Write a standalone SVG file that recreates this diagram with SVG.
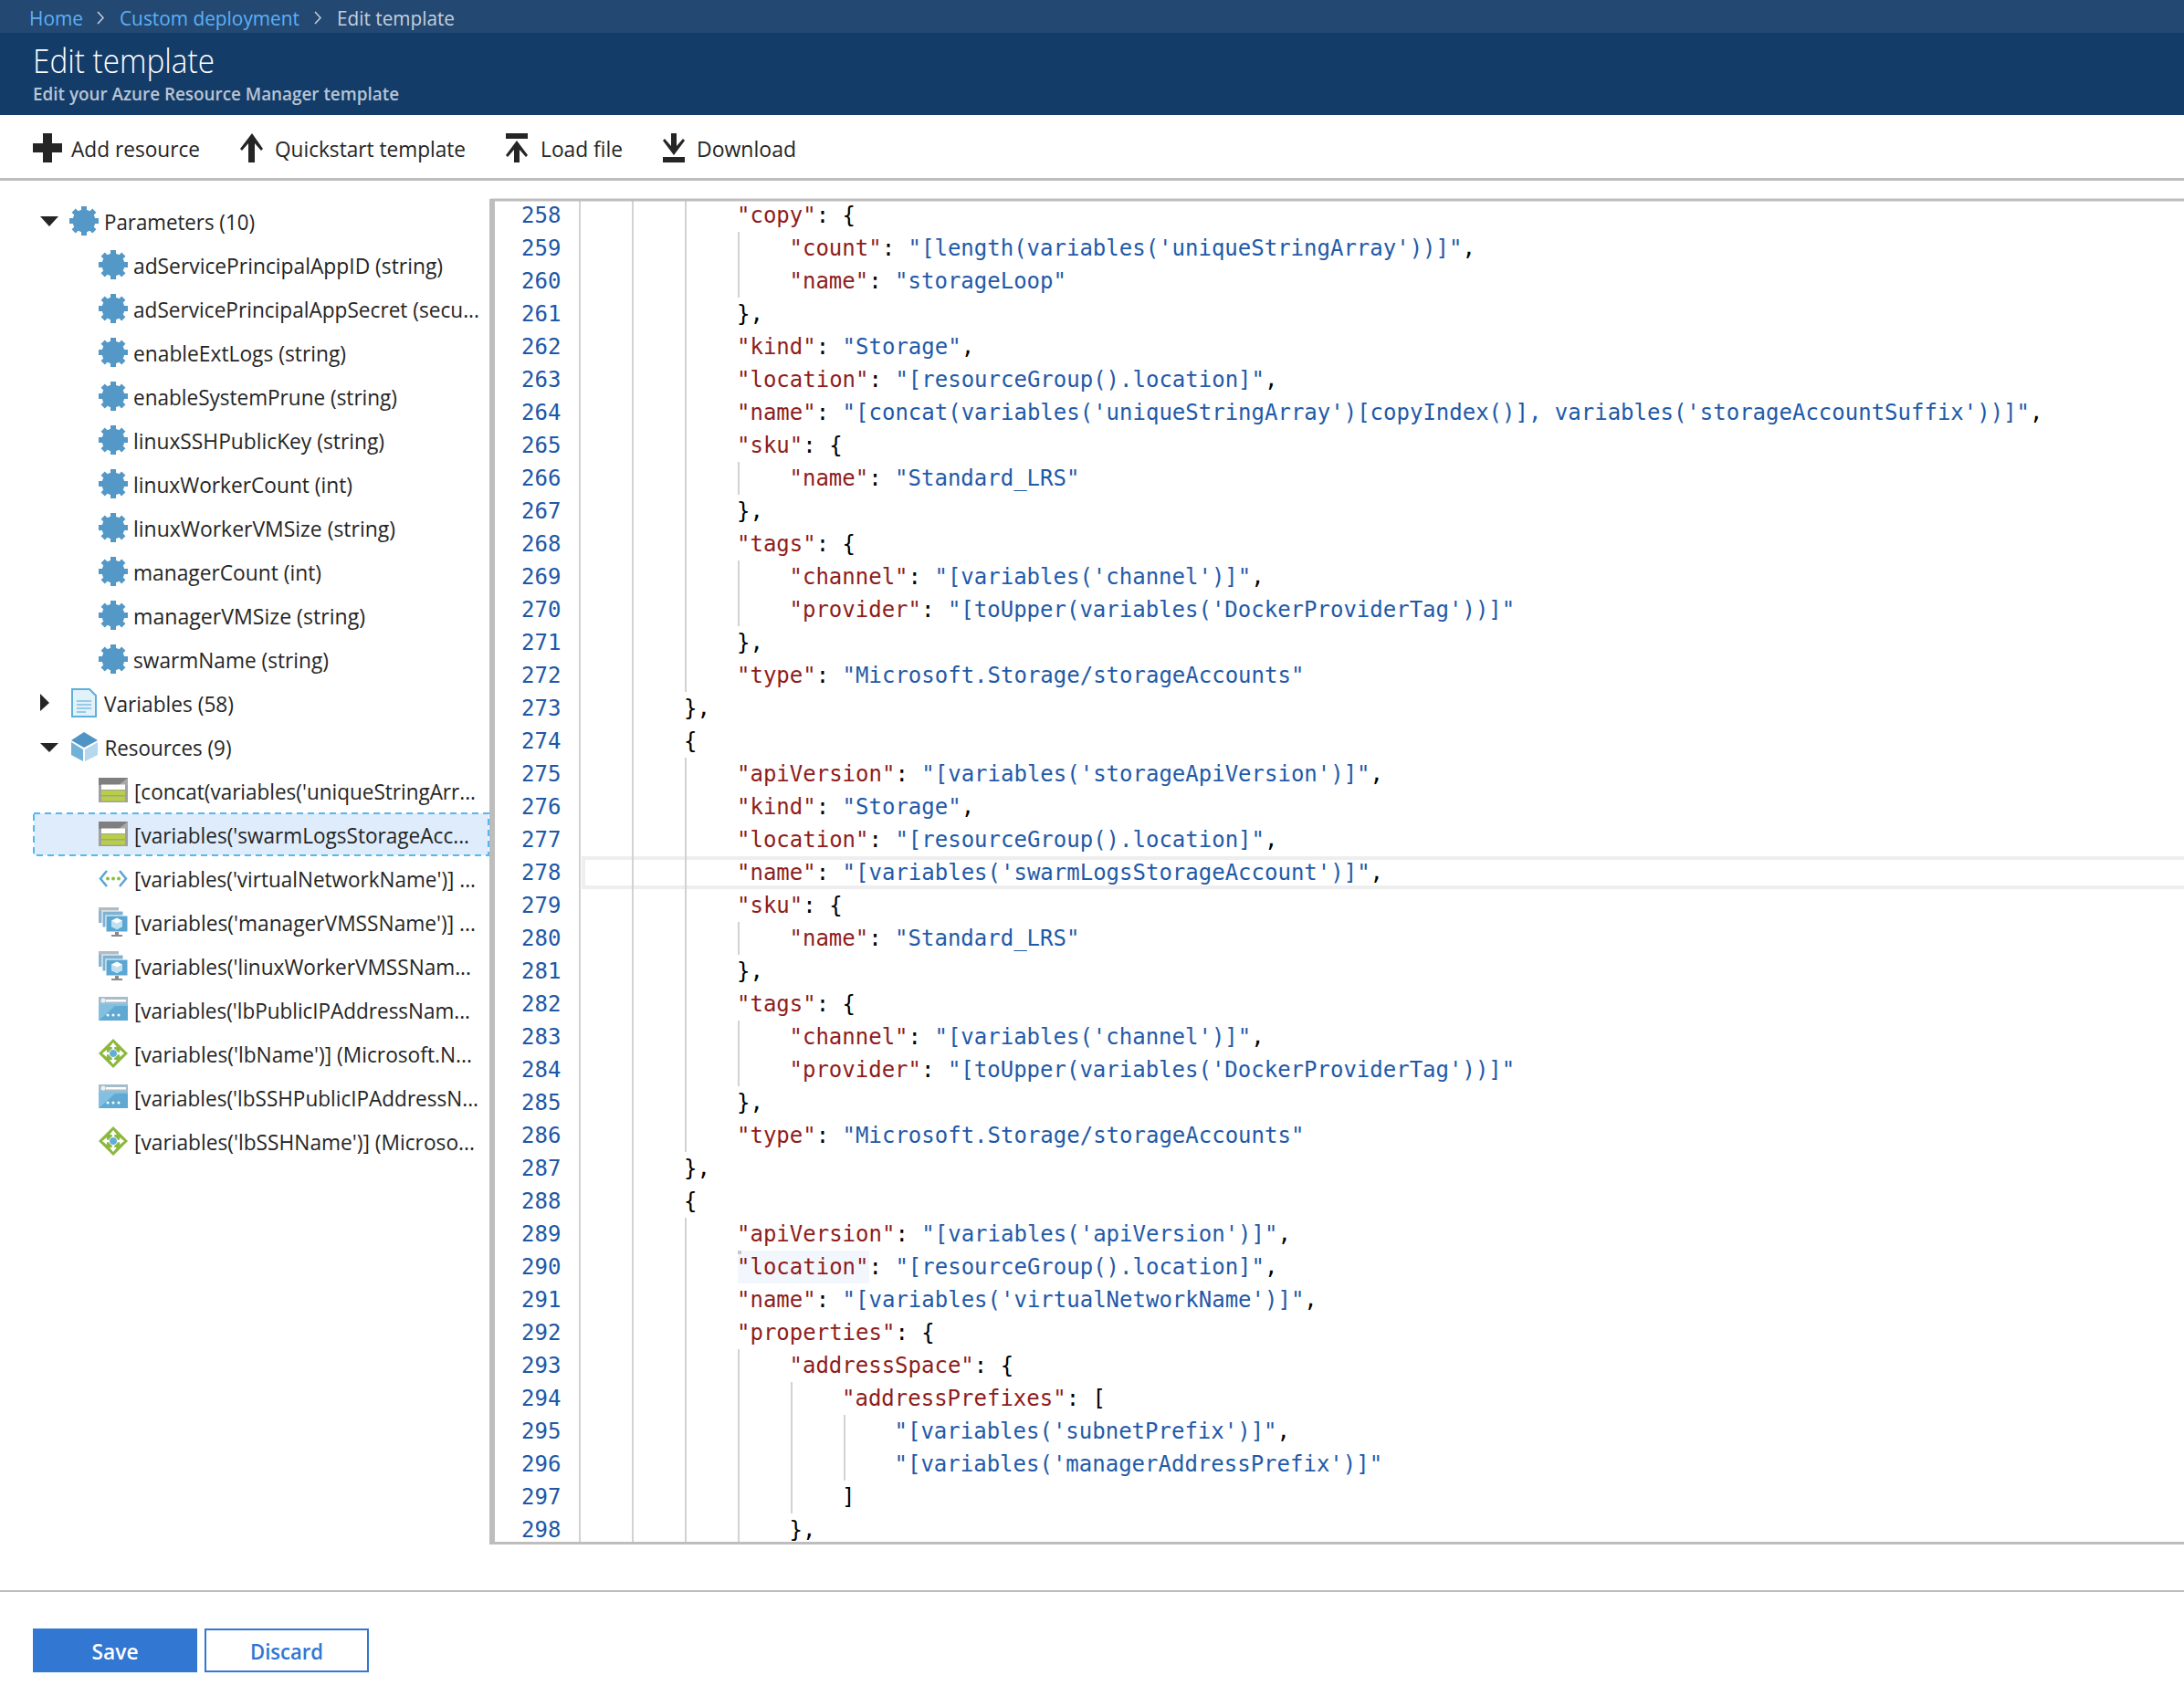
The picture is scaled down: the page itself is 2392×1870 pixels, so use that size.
<svg xmlns="http://www.w3.org/2000/svg" xmlns:xlink="http://www.w3.org/1999/xlink" width="2392" height="1870" viewBox="0 0 2392 1870">
<style>
.ui{font-family:"Open Sans","Noto Sans","Liberation Sans",sans-serif;font-size:24px;fill:#252525}
.cr{font-size:22px}
.lk{fill:#5cb0f6}
.code text,.num{font-family:"DejaVu Sans Mono","Liberation Mono",monospace;font-size:24px;fill:#000}
.num{fill:#2057a7}
.k{fill:#8f1d1b}
.s{fill:#1f5aa8}
.g{stroke:#d2d2d2;stroke-width:2;fill:none}
.bk{fill:#252525}
</style>
<defs>
<g id="gear"><circle r="12.5" fill="#5498c7"/><g fill="#5498c7"><rect x="-3" y="-16" width="6" height="32"/><rect x="-3" y="-16" width="6" height="32" transform="rotate(45)"/><rect x="-3" y="-16" width="6" height="32" transform="rotate(90)"/><rect x="-3" y="-16" width="6" height="32" transform="rotate(135)"/></g></g>
<g id="storage"><rect width="32" height="27" fill="#a0a0a0"/><path d="M0 0H32V8H0Z" fill="#7f7f7f"/><path d="M22 8L32 0V8Z" fill="#a8a8a8"/><rect x="3" y="7.500" width="26" height="5.500" fill="#fff"/><rect x="3" y="14" width="26" height="5" fill="#b8cf45"/><rect x="3" y="20.500" width="26" height="5" fill="#b8cf45"/></g>
<g id="net"><path d="M9 1L2 9.500L9 18M23 1L30 9.500L23 18" fill="none" stroke="#59a5d8" stroke-width="2.500"/><circle cx="10" cy="9.500" r="2" fill="#8cbc3c"/><circle cx="16" cy="9.500" r="2" fill="#8cbc3c"/><circle cx="22" cy="9.500" r="2" fill="#8cbc3c"/></g>
<g id="vmss"><rect x="0" y="0" width="22" height="17" fill="#8db5cf"/><rect x="0" y="0" width="22" height="4" fill="#b0bcc4"/><rect x="4" y="4" width="23" height="18" fill="#7fb2d2" stroke="#fff"/><rect x="8" y="9" width="24" height="18" fill="#5ba7d3" stroke="#fff"/><path d="M20 11.500L26 14.500V21L20 24L14 21V14.500Z" fill="#fff"/><path d="M20 17.500L26 14.500V21L20 24ZM20 17.500L14 14.500V21L20 24Z" fill="#bfe0f2"/><rect x="18" y="27" width="4" height="3" fill="#8a8a8a"/><rect x="14" y="30" width="12" height="2" fill="#8a8a8a"/></g>
<g id="ip"><rect width="32" height="26" fill="#83c0e0"/><path d="M0 26L18 10H32V26Z" fill="#5fa9d2"/><rect width="32" height="8" fill="#a5bccb"/><rect x="8" y="3" width="22" height="2.500" fill="#fff"/><circle cx="5" cy="4" r="2.500" fill="#e8f3f9"/><circle cx="10" cy="20" r="1.500" fill="#fff"/><circle cx="16" cy="20" r="1.500" fill="#fff"/><circle cx="22" cy="20" r="1.500" fill="#fff"/></g>
<g id="lb"><path d="M0-16L16 0L0 16L-16 0Z" fill="#8cb83c"/><path d="M0-10V10M-10 0H10" stroke="#fff" stroke-width="2.500"/><path d="M0-12L-4-7H4ZM0 12L-4 7H4ZM-12 0L-7-4V4ZM12 0L7-4V4Z" fill="#fff"/><circle r="4.500" fill="#62aedb" stroke="#fff"/></g>
</defs>
<rect width="2392" height="1870" fill="#fff"/>
<g id="header">
<rect width="2392" height="36" fill="#234872"/>
<rect y="36" width="2392" height="90" fill="#143c69"/>
<text class="ui cr lk" x="32" y="28" textLength="59" lengthAdjust="spacingAndGlyphs">Home</text>
<path d="M107 13L113 19.500L107 26" fill="none" stroke="#c6d0dc" stroke-width="1.500"/>
<text class="ui cr lk" x="131" y="28" textLength="197" lengthAdjust="spacingAndGlyphs">Custom deployment</text>
<path d="M345 13L351 19.500L345 26" fill="none" stroke="#c6d0dc" stroke-width="1.500"/>
<text class="ui cr" style="fill:#c6d0dc" x="369" y="28" textLength="129" lengthAdjust="spacingAndGlyphs">Edit template</text>
<text class="ui" style="font-size:36px;font-weight:300;fill:#fff" x="36" y="80" textLength="199" lengthAdjust="spacingAndGlyphs">Edit template</text>
<text class="ui" style="font-size:20px;font-weight:600;fill:#b9c5d3" x="36" y="110" textLength="401" lengthAdjust="spacingAndGlyphs">Edit your Azure Resource Manager template</text>
</g>
<g id="toolbar">
<path class="bk" d="M47 146H57V157H68V167H57V178H47V167H36V157H47Z"/>
<text class="ui" x="78" y="172" textLength="141" lengthAdjust="spacingAndGlyphs">Add resource</text>
<path class="bk" d="M276 146L288 163L286 165L279 157V178H272V157L265 165L263 163Z"/>
<text class="ui" x="301" y="172" textLength="209" lengthAdjust="spacingAndGlyphs">Quickstart template</text>
<path class="bk" d="M554 146H578V152H554ZM566 154L578 170L576 172L569 164V178H563V164L556 172L554 170Z"/>
<text class="ui" x="592" y="172" textLength="90" lengthAdjust="spacingAndGlyphs">Load file</text>
<path class="bk" d="M735 146H741V160L748 152L750 154L738 170L726 154L728 152L735 160ZM726 172H750V178H726Z"/>
<text class="ui" x="763" y="172" textLength="109" lengthAdjust="spacingAndGlyphs">Download</text>
<rect y="195" width="2392" height="3" fill="#bdbdbd"/>
</g>
<g id="tree">
<rect x="37" y="891" width="498" height="46" fill="#deecfb" stroke="#55b8ee" stroke-width="2" stroke-dasharray="7 5"/>
<path class="bk" d="M44 237H64L54 248Z"/>
<use href="#gear" x="92" y="242"/>
<text class="ui" x="114" y="252" textLength="165" lengthAdjust="spacingAndGlyphs">Parameters (10)</text>
<use href="#gear" x="124" y="290"/><text class="ui" x="146" y="300" textLength="339" lengthAdjust="spacingAndGlyphs">adServicePrincipalAppID (string)</text>
<use href="#gear" x="124" y="338"/><text class="ui" x="146" y="348" textLength="379" lengthAdjust="spacingAndGlyphs">adServicePrincipalAppSecret (secu...</text>
<use href="#gear" x="124" y="386"/><text class="ui" x="146" y="396" textLength="233" lengthAdjust="spacingAndGlyphs">enableExtLogs (string)</text>
<use href="#gear" x="124" y="434"/><text class="ui" x="146" y="444" textLength="289" lengthAdjust="spacingAndGlyphs">enableSystemPrune (string)</text>
<use href="#gear" x="124" y="482"/><text class="ui" x="146" y="492" textLength="275" lengthAdjust="spacingAndGlyphs">linuxSSHPublicKey (string)</text>
<use href="#gear" x="124" y="530"/><text class="ui" x="146" y="540" textLength="240" lengthAdjust="spacingAndGlyphs">linuxWorkerCount (int)</text>
<use href="#gear" x="124" y="578"/><text class="ui" x="146" y="588" textLength="287" lengthAdjust="spacingAndGlyphs">linuxWorkerVMSize (string)</text>
<use href="#gear" x="124" y="626"/><text class="ui" x="146" y="636" textLength="206" lengthAdjust="spacingAndGlyphs">managerCount (int)</text>
<use href="#gear" x="124" y="674"/><text class="ui" x="146" y="684" textLength="254" lengthAdjust="spacingAndGlyphs">managerVMSize (string)</text>
<use href="#gear" x="124" y="722"/><text class="ui" x="146" y="732" textLength="214" lengthAdjust="spacingAndGlyphs">swarmName (string)</text>
<path class="bk" d="M44 760L54 770L44 779Z"/>
<g id="icon-variables"><path d="M79 755H98L105 762V785H79Z" fill="#e3f1f9" stroke="#5cb0dc" stroke-width="2"/><path d="M84 768H100M84 772H100M84 776H100M84 780H94" stroke="#7cc0e4" stroke-width="1.500"/></g>
<text class="ui" x="114" y="780" textLength="142" lengthAdjust="spacingAndGlyphs">Variables (58)</text>
<path class="bk" d="M44 814H64L54 824Z"/>
<g id="icon-resources"><path d="M92 802L107 811L92 819L78 811Z" fill="#4f94c4"/><path d="M78 813L91 821V834L78 827Z" fill="#71b3d8"/><path d="M93 821L107 813V827L93 834Z" fill="#b5d8ec"/></g>
<text class="ui" x="114.500" y="828" textLength="139" lengthAdjust="spacingAndGlyphs">Resources (9)</text>
<use href="#storage" x="108" y="852"/><text class="ui" x="147" y="876" textLength="374" lengthAdjust="spacingAndGlyphs">[concat(variables('uniqueStringArr...</text>
<use href="#storage" x="108" y="900"/><text class="ui" x="147" y="924" textLength="367" lengthAdjust="spacingAndGlyphs">[variables('swarmLogsStorageAcc...</text>
<use href="#net" x="108" y="953"/><text class="ui" x="147" y="972" textLength="374" lengthAdjust="spacingAndGlyphs">[variables('virtualNetworkName')] ...</text>
<use href="#vmss" x="108" y="994"/><text class="ui" x="147" y="1020" textLength="374" lengthAdjust="spacingAndGlyphs">[variables('managerVMSSName')] ...</text>
<use href="#vmss" x="108" y="1042"/><text class="ui" x="147" y="1068" textLength="369" lengthAdjust="spacingAndGlyphs">[variables('linuxWorkerVMSSNam...</text>
<use href="#ip" x="108" y="1092"/><text class="ui" x="147" y="1116" textLength="368" lengthAdjust="spacingAndGlyphs">[variables('lbPublicIPAddressNam...</text>
<use href="#lb" x="124" y="1154"/><text class="ui" x="147" y="1164" textLength="370" lengthAdjust="spacingAndGlyphs">[variables('lbName')] (Microsoft.N...</text>
<use href="#ip" x="108" y="1188"/><text class="ui" x="147" y="1212" textLength="377" lengthAdjust="spacingAndGlyphs">[variables('lbSSHPublicIPAddressN...</text>
<use href="#lb" x="124" y="1250"/><text class="ui" x="147" y="1260" textLength="373" lengthAdjust="spacingAndGlyphs">[variables('lbSSHName')] (Microso...</text>
</g>
<g id="editor">
<rect x="639" y="940" width="1756" height="32" fill="none" stroke="#eeeeee" stroke-width="4"/>
<rect x="808" y="1370" width="144" height="36" fill="#f2f7fe"/>
<rect x="808" y="1370" width="4" height="4" fill="#c8c8c8"/>
<path class="g" d="M635 220V1690M693 220V1690M751 220V758M751 830V1262M751 1334V1690M809 254V326M809 506V542M809 614V686M809 1010V1046M809 1118V1190M809 1478V1690M867 1514V1658M925 1550V1622"/>
<g class="num">
<text class="num" x="571" y="244">258</text><text class="num" x="571" y="280">259</text><text class="num" x="571" y="316">260</text><text class="num" x="571" y="352">261</text><text class="num" x="571" y="388">262</text><text class="num" x="571" y="424">263</text><text class="num" x="571" y="460">264</text><text class="num" x="571" y="496">265</text><text class="num" x="571" y="532">266</text><text class="num" x="571" y="568">267</text><text class="num" x="571" y="604">268</text><text class="num" x="571" y="640">269</text><text class="num" x="571" y="676">270</text><text class="num" x="571" y="712">271</text><text class="num" x="571" y="748">272</text><text class="num" x="571" y="784">273</text><text class="num" x="571" y="820">274</text><text class="num" x="571" y="856">275</text><text class="num" x="571" y="892">276</text><text class="num" x="571" y="928">277</text><text class="num" x="571" y="964">278</text><text class="num" x="571" y="1000">279</text><text class="num" x="571" y="1036">280</text><text class="num" x="571" y="1072">281</text><text class="num" x="571" y="1108">282</text><text class="num" x="571" y="1144">283</text><text class="num" x="571" y="1180">284</text><text class="num" x="571" y="1216">285</text><text class="num" x="571" y="1252">286</text><text class="num" x="571" y="1288">287</text><text class="num" x="571" y="1324">288</text><text class="num" x="571" y="1360">289</text><text class="num" x="571" y="1396">290</text><text class="num" x="571" y="1432">291</text><text class="num" x="571" y="1468">292</text><text class="num" x="571" y="1504">293</text><text class="num" x="571" y="1540">294</text><text class="num" x="571" y="1576">295</text><text class="num" x="571" y="1612">296</text><text class="num" x="571" y="1648">297</text><text class="num" x="571" y="1684">298</text>
</g>
<g class="code">
<text x="807" y="244"><tspan class="k">"copy"</tspan>: {</text>
<text x="864.500" y="280"><tspan class="k">"count"</tspan>: <tspan class="s">"[length(variables('uniqueStringArray'))]"</tspan>,</text>
<text x="864.500" y="316"><tspan class="k">"name"</tspan>: <tspan class="s">"storageLoop"</tspan></text>
<text x="807" y="352">},</text>
<text x="807" y="388"><tspan class="k">"kind"</tspan>: <tspan class="s">"Storage"</tspan>,</text>
<text x="807" y="424"><tspan class="k">"location"</tspan>: <tspan class="s">"[resourceGroup().location]"</tspan>,</text>
<text x="807" y="460"><tspan class="k">"name"</tspan>: <tspan class="s">"[concat(variables('uniqueStringArray')[copyIndex()], variables('storageAccountSuffix'))]"</tspan>,</text>
<text x="807" y="496"><tspan class="k">"sku"</tspan>: {</text>
<text x="864.500" y="532"><tspan class="k">"name"</tspan>: <tspan class="s">"Standard_LRS"</tspan></text>
<text x="807" y="568">},</text>
<text x="807" y="604"><tspan class="k">"tags"</tspan>: {</text>
<text x="864.500" y="640"><tspan class="k">"channel"</tspan>: <tspan class="s">"[variables('channel')]"</tspan>,</text>
<text x="864.500" y="676"><tspan class="k">"provider"</tspan>: <tspan class="s">"[toUpper(variables('DockerProviderTag'))]"</tspan></text>
<text x="807" y="712">},</text>
<text x="807" y="748"><tspan class="k">"type"</tspan>: <tspan class="s">"Microsoft.Storage/storageAccounts"</tspan></text>
<text x="749" y="784">},</text>
<text x="749" y="820">{</text>
<text x="807" y="856"><tspan class="k">"apiVersion"</tspan>: <tspan class="s">"[variables('storageApiVersion')]"</tspan>,</text>
<text x="807" y="892"><tspan class="k">"kind"</tspan>: <tspan class="s">"Storage"</tspan>,</text>
<text x="807" y="928"><tspan class="k">"location"</tspan>: <tspan class="s">"[resourceGroup().location]"</tspan>,</text>
<text x="807" y="964"><tspan class="k">"name"</tspan>: <tspan class="s">"[variables('swarmLogsStorageAccount')]"</tspan>,</text>
<text x="807" y="1000"><tspan class="k">"sku"</tspan>: {</text>
<text x="864.500" y="1036"><tspan class="k">"name"</tspan>: <tspan class="s">"Standard_LRS"</tspan></text>
<text x="807" y="1072">},</text>
<text x="807" y="1108"><tspan class="k">"tags"</tspan>: {</text>
<text x="864.500" y="1144"><tspan class="k">"channel"</tspan>: <tspan class="s">"[variables('channel')]"</tspan>,</text>
<text x="864.500" y="1180"><tspan class="k">"provider"</tspan>: <tspan class="s">"[toUpper(variables('DockerProviderTag'))]"</tspan></text>
<text x="807" y="1216">},</text>
<text x="807" y="1252"><tspan class="k">"type"</tspan>: <tspan class="s">"Microsoft.Storage/storageAccounts"</tspan></text>
<text x="749" y="1288">},</text>
<text x="749" y="1324">{</text>
<text x="807" y="1360"><tspan class="k">"apiVersion"</tspan>: <tspan class="s">"[variables('apiVersion')]"</tspan>,</text>
<text x="807" y="1396"><tspan class="k">"location"</tspan>: <tspan class="s">"[resourceGroup().location]"</tspan>,</text>
<text x="807" y="1432"><tspan class="k">"name"</tspan>: <tspan class="s">"[variables('virtualNetworkName')]"</tspan>,</text>
<text x="807" y="1468"><tspan class="k">"properties"</tspan>: {</text>
<text x="864.500" y="1504"><tspan class="k">"addressSpace"</tspan>: {</text>
<text x="922" y="1540"><tspan class="k">"addressPrefixes"</tspan>: [</text>
<text x="979.500" y="1576"><tspan class="s">"[variables('subnetPrefix')]"</tspan>,</text>
<text x="979.500" y="1612"><tspan class="s">"[variables('managerAddressPrefix')]"</tspan></text>
<text x="922" y="1648">]</text>
<text x="864.500" y="1684">},</text>
</g>
<path d="M2392 219H539V1690.500H2392" fill="none" stroke="#bdbdbd" stroke-width="3"/>
<rect x="536" y="218" width="6" height="1474" fill="#bdbdbd"/>
</g>
<g id="footer">
<rect y="1742" width="2392" height="2" fill="#bdbdbd"/>
<g id="save"><rect x="36" y="1784" width="180" height="48" fill="#3277d2"/><text class="ui" style="font-weight:600;fill:#fff" x="126" y="1818" text-anchor="middle" textLength="51" lengthAdjust="spacingAndGlyphs">Save</text></g>
<g id="discard"><rect x="225" y="1785" width="178" height="46" fill="#fff" stroke="#3277d2" stroke-width="2"/><text class="ui" style="font-weight:600;fill:#3277d2" x="314" y="1818" text-anchor="middle" textLength="80" lengthAdjust="spacingAndGlyphs">Discard</text></g>
</g>
</svg>
